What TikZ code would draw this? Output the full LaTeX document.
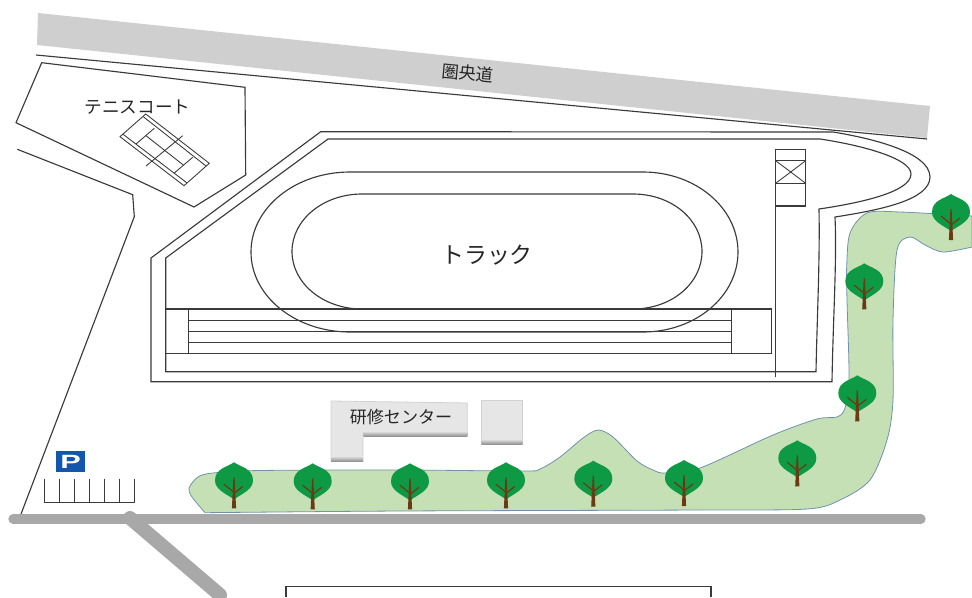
\documentclass[tikz,border=0pt]{standalone}
\usepackage{fontspec}
\setmainfont{Noto Sans CJK JP}
\newfontfamily\latinsans{Liberation Sans}
\usetikzlibrary{shadings}
\definecolor{linec}{HTML}{3A3A3A}
\definecolor{roadc}{HTML}{A8A8A8}
\definecolor{bandc}{HTML}{CFCFCF}
\definecolor{parkc}{HTML}{C6E0B6}
\definecolor{parkedge}{HTML}{6F93AE}
\definecolor{leafc}{HTML}{0E9A45}
\definecolor{trunkc}{HTML}{6B3A12}
\definecolor{bldc}{HTML}{E6E6E6}
\definecolor{signc}{HTML}{1257AC}
\tikzset{
  x=0.75pt,y=-0.75pt,
  ln/.style={draw=linec,line width=0.85pt,line join=miter},
  thinln/.style={draw=linec,line width=0.65pt},
  road/.style={draw=roadc,line cap=round},
  bld/.style={fill=bldc,draw=black!18,line width=0.6pt},
  bevel/.style={top color=bldc,bottom color=black!45,draw=none},
  lbl/.style={inner sep=0pt,text=black!85},
  tree/.pic={
    \fill[leafc] (0,0) .. controls (6,4.5) and (19,6) .. (19,18)
      .. controls (19,27) and (9,31) .. (0,37)
      .. controls (-9,31) and (-19,27) .. (-19,18)
      .. controls (-19,6) and (-6,4.5) .. (0,0) -- cycle;
    \fill[trunkc] (-0.6,15) -- (0.6,15) -- (2.1,46) -- (-2.1,46) -- cycle;
    \draw[trunkc,line width=0.9pt] (-10,22) -- (0,30);
    \draw[trunkc,line width=0.9pt] (9,24) -- (0,31);
  }
}
\begin{document}
\begin{tikzpicture}
\useasboundingbox (0,0) rectangle (972,597);
\clip (0,0) rectangle (972,597);
\fill[white] (0,0) rectangle (972,597);
% expressway
\fill[bandc] (38,13) -- (930,106) -- (927,138) -- (37,45) -- cycle;
\draw[ln] (36,55) -- (927,139);
\node[lbl,rotate=-5.4,font=\fontsize{13}{14}\selectfont] (expressway) at (467.5,73) {圏央道};
% tennis area
\draw[ln] (41.7,62.7) -- (245,87.3) -- (245.7,175) -- (194,207) -- (16,122.7) -- cycle;
\node[lbl,font=\fontsize{13.2}{14}\selectfont] (tennislabel) at (137.5,107) {テニスコート};
% tennis court
\draw[thinln] (145.7,114) -- (209.3,163.3) -- (184,185.7) -- (120,136.7) -- cycle;
\draw[thinln] (143.3,116.7) -- (206,166);
\draw[thinln] (122.7,134) -- (186.7,182.7);
\draw[thinln] (154.3,128.3) -- (136,144);
\draw[thinln] (192.7,157.3) -- (174,173.3);
\draw[thinln] (146,135.7) -- (183.3,165);
\draw[thinln] (182.7,135.7) -- (146,166);
% lower-left road edge
\draw[ln] (17.3,149.3) -- (132.7,194.7) -- (134.3,216.7) -- (20,516.7);
% stadium outer and inner outline
\draw[ln] (151,381.7) -- (151,258) -- (320.7,131.7) -- (833,132)
  .. controls (870,138) and (930,152) .. (930,177)
  .. controls (930,200) and (880,210) .. (835,217)
  .. controls (837,260) and (833,320) .. (832,381.7) -- cycle;
\draw[ln] (165.7,371.7) -- (165.7,258) -- (328,139) -- (820,139)
  .. controls (860,145) and (911,158) .. (911,174)
  .. controls (911,192) and (860,203) .. (819,209)
  .. controls (820,260) and (817,320) .. (816,371.7) -- cycle;
% ovals
\draw[ln] (350,172) -- (643,172)
  .. controls (695.5,172) and (738,207.8) .. (738,252)
  .. controls (738,296.2) and (695.5,332) .. (643,332)
  -- (350,332)
  .. controls (295.3,332) and (251,296.2) .. (251,252)
  .. controls (251,207.8) and (295.3,172) .. (350,172) -- cycle;
\draw[ln] (362,194) -- (633,194)
  .. controls (671.7,194) and (702,219.7) .. (702,251.5)
  .. controls (702,283.3) and (671.7,309) .. (633,309)
  -- (362,309)
  .. controls (323.3,309) and (292,283.3) .. (292,251.5)
  .. controls (292,219.7) and (323.3,194) .. (362,194) -- cycle;
% lanes
\draw[ln] (165.7,309) rectangle (771.7,353.3);
\draw[ln] (188.3,309) -- (188.3,353.3);
\draw[ln] (731.3,309) -- (731.3,353.3);
\draw[ln] (188.3,320.7) -- (731.3,320.7);
\draw[ln] (188.3,331.7) -- (731.3,331.7);
\draw[ln] (188.3,342.3) -- (731.3,342.3);
% field boxes
\draw[ln] (775.7,149.3) -- (775.7,377);
\draw[ln] (775.7,149.3) rectangle (805.7,206);
\draw[ln] (775.7,160.7) -- (805.7,160.7);
\draw[ln] (775.7,183.3) -- (805.7,183.3);
\draw[thinln] (775.7,160.7) -- (805.7,183.3) (805.7,160.7) -- (775.7,183.3);
\node[lbl,font=\fontsize{17.2}{18}\selectfont] (tracklabel) at (487,255) {トラック};
% park strip
\fill[parkc,draw=parkedge,line width=0.6pt]
  plot[smooth,tension=0.5] coordinates {(205,512.7) (192,497) (189,488) (198,477) (213,473) (260,470.5) (400,470) (523,471) (540,469) (560,457) (583,438) (598,430) (613,437) (637,461) (653,470) (665,473) (700,468) (773,435) (817,419) (837,417) (845,408) (849,377) (847,300) (846.7,267) (850,233) (867,213) (900,212) (972,216)}
  -- (972,247)
  -- plot[smooth,tension=0.5] coordinates {(972,247) (943,252) (925,245) (910,237) (897,250) (893,320) (893,400) (887,440) (870,480) (840,500) (807,509) (700,510) (400,511) (205,512.7)}
  -- cycle;
% main roads
\draw[road,line width=10.5pt] (130,518) -- (220,595);
\draw[road,line width=7pt] (13,519) -- (921,519);
% parking
\node[fill=signc,minimum width=22pt,minimum height=16.2pt,inner sep=0pt] (psign) at (70.7,461.5) {};
\node[inner sep=0pt,text=white,font=\latinsans\bfseries\fontsize{14.4}{15}\selectfont,xscale=1.6] (pletter) at (psign.center) {P};
\draw[draw=linec,line width=1pt] (44.7,479.3) -- (44.7,502.7) -- (134.7,502.7) -- (134.7,479.3);
\foreach \px in {59.7,74.7,89.7,104.7,119.7}{\draw[draw=linec,line width=1pt] (\px,479.3) -- (\px,502.7);}
% buildings
\path[bld] (331,401) -- (467.3,403) -- (467.3,436) -- (363,436) -- (363,461) -- (331,461) -- cycle;
\shade[bevel] (363.5,431) rectangle (467.3,436.5);
\shade[bevel] (331,456) rectangle (363,461.5);
\path[bld] (481.7,400.7) rectangle (522.3,444);
\shade[bevel] (481.7,439) rectangle (522.3,444.5);
\node[lbl,font=\fontsize{12.8}{13}\selectfont] (centerlabel) at (401,417) {研修センター};
% bottom frame
\draw[ln] (286,597) -- (286,586.5) -- (711,586.5) -- (711,597);
% trees
\foreach \tx/\ty in {234/462.3,312.7/463.3,410/463.3,506/462.3,593.3/460.7,684/460,797.3/440.3,857.3/375.3,864.3/263.3,951/194}{
  \pic at (\tx,\ty) {tree};
}
\end{tikzpicture}
\end{document}
